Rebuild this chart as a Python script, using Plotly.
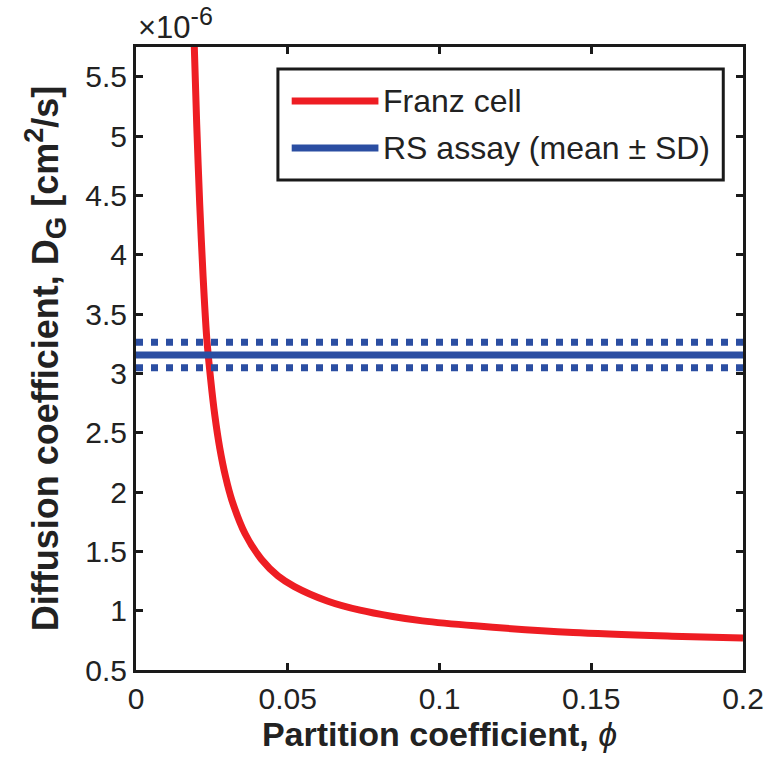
import plotly.graph_objects as go

# Franz cell curve (D in units of 1e-6 cm^2/s)
phi = [0.0192, 0.0200, 0.0210, 0.0221, 0.0233, 0.0246, 0.0260, 0.0276, 0.0295, 0.0316,
       0.0359, 0.0413, 0.0468, 0.0522, 0.0630, 0.0738, 0.0846, 0.0944, 0.1117, 0.144,
       0.1766, 0.200]
d_franz = [5.76, 5.10, 4.42, 3.82, 3.30, 2.95, 2.64, 2.37, 2.13, 1.93,
           1.65, 1.433, 1.292, 1.203, 1.082, 1.004, 0.951, 0.914, 0.872, 0.815,
           0.785, 0.77]

# RS assay mean and SD
rs_x = [0, 0.2]
rs_mean = 3.155
rs_sd = 0.107

x_ticks = [0, 0.05, 0.1, 0.15, 0.2]
x_labels = ["0", "0.05", "0.1", "0.15", "0.2"]
y_ticks = [0.5, 1, 1.5, 2, 2.5, 3, 3.5, 4, 4.5, 5, 5.5]
y_labels = ["0.5", "1", "1.5", "2", "2.5", "3", "3.5", "4", "4.5", "5", "5.5"]

legend_names = ["Franz cell", "RS assay (mean \u00b1 SD)"]

red = "#EE1D23"
blue = "#2B4EA2"
ink = "#1a1a1a"
font = "Liberation Sans, Arial"

fig = go.Figure()
fig.add_trace(go.Scatter(x=phi, y=d_franz, mode="lines", name=legend_names[0],
                         line=dict(color=red, width=7, shape="spline", smoothing=0.8)))
fig.add_trace(go.Scatter(x=rs_x, y=[rs_mean, rs_mean], mode="lines", name=legend_names[1],
                         line=dict(color=blue, width=7)))
for v in [rs_mean + rs_sd, rs_mean - rs_sd]:
    fig.add_trace(go.Scatter(x=rs_x, y=[v, v], mode="lines",
                             line=dict(color=blue, width=7, dash="7px,8px")))

axis_common = dict(showgrid=False, zeroline=False, showline=True, mirror="ticks",
                   linecolor=ink, linewidth=3, ticks="inside", ticklen=7,
                   tickwidth=3, tickcolor=ink,
                   tickfont=dict(family=font, size=30, color="#222"))

fig.update_xaxes(range=[0, 0.2], tickvals=x_ticks, ticktext=x_labels,
                 title=dict(text="<b>Partition coefficient, </b><i>\u03d5</i>",
                            font=dict(family=font, size=34, color="#222"),
                            standoff=4),
                 **axis_common)
fig.update_yaxes(range=[0.5, 5.75], tickvals=y_ticks, ticktext=y_labels,
                 title=dict(text="<b>Diffusion coefficient, D<sub><span style='font-size:29px'>G</span></sub>"
                                 " [cm<sup><span style='font-size:27px'>2</span></sup>/s]</b>",
                            font=dict(family=font, size=36, color="#222"),
                            standoff=16),
                 **axis_common)

fig.add_annotation(text="\u00d710<sup><span style='font-size:25px'>-6</span></sup>",
                   xref="paper", yref="paper",
                   x=0, y=1, xanchor="left", yanchor="bottom", showarrow=False,
                   font=dict(family=font, size=31, color="#222"))

# legend box drawn like the MATLAB one
fig.add_shape(type="rect", xref="paper", yref="paper", x0=0.2338, x1=0.9675,
              y0=0.7865, y1=0.9647, line=dict(color=ink, width=3), fillcolor="white",
              layer="above")
for yy, col, name in [(0.9133, red, legend_names[0]), (0.8379, blue, legend_names[1])]:
    fig.add_shape(type="line", xref="paper", yref="paper", x0=0.2565, x1=0.3994,
                  y0=yy, y1=yy, line=dict(color=col, width=7), layer="above")
    fig.add_annotation(text=name, xref="paper", yref="paper", x=0.403, y=yy,
                       xanchor="left", yanchor="middle", showarrow=False,
                       font=dict(family=font, size=32, color="#222"))

fig.update_layout(
    width=776, height=765,
    margin=dict(l=136, r=24, t=47, b=95),
    plot_bgcolor="white", paper_bgcolor="white",
    showlegend=False,
)

fig.write_html("out.html", config={"displayModeBar": False},
               post_script="document.body.style.margin='0';")
